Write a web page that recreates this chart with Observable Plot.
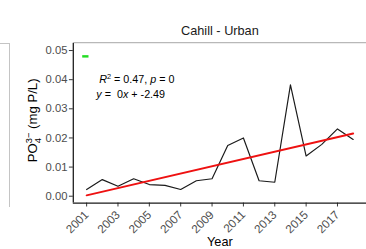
<!DOCTYPE html>
<html><head><meta charset="utf-8">
<script src="https://cdn.jsdelivr.net/npm/d3@7"></script>
<script src="https://cdn.jsdelivr.net/npm/@observablehq/plot@0.6"></script>
<style>
body{margin:0;background:#fff;}
#wrap{position:relative;width:366px;height:249px;overflow:hidden;font-family:"Liberation Sans",Arial,sans-serif;background:#fff;}
#wrap svg{position:absolute;left:0;top:0;}
#neighbor{position:absolute;left:-10px;top:43px;width:18.5px;height:163px;border-top:1.5px solid #c4c4c4;border-right:1.5px solid #c4c4c4;}
</style></head><body><div id="wrap"><div id="neighbor"></div></div>
<script>
// ---- data ----
const years = [2001,2002,2003,2004,2005,2006,2007,2008,2009,2010,2011,2012,2013,2014,2015,2016,2017,2018];
const po4 = [0.0023,0.0057,0.0034,0.0060,0.0040,0.0037,0.0023,0.0053,0.0060,0.0174,0.0200,0.0053,0.0048,0.0382,0.0138,0.0178,0.0231,0.0195];
const fitYears = [2001, 2018];
const fitValues = [0.0003, 0.0215];
const xTicks = [2001,2003,2005,2007,2009,2011,2013,2015,2017];
const yTicks = [0,0.01,0.02,0.03,0.04,0.05];
const xDomain = [2000.15, 2018.85];
const yDomain = [-0.00235, 0.0524];
const panelTitle = "Cahill - Urban";
const xLabel = "Year";
const statLines = ["*R*^2^ = 0.47, *p* = 0", "*y* =  0*x* + -2.49"];
const statX = [2001.8, 2001.62];
const statY = [0.0399, 0.0348];
const greenX1 = [2000.75];
const greenX2 = [2001.15];
const greenY = [0.0480];

const series = years.map((y, i) => ({year: y, value: po4[i]}));
const fit = fitYears.map((y, i) => ({year: y, value: fitValues[i]}));
const stats = statLines.map((t, i) => ({t, x: statX[i], y: statY[i]}));
const green = greenY.map((y, i) => ({x1: greenX1[i], x2: greenX2[i], y}));

const plot = Plot.plot({
  width: 374, height: 249,
  marginLeft: 74.4, marginRight: 0, marginTop: 44, marginBottom: 42,
  style: {fontFamily: "'Liberation Sans', Arial, sans-serif", fontSize: "11.5px", color: "#333333", background: "transparent", overflow: "visible"},
  x: {domain: xDomain, ticks: xTicks, tickFormat: d => String(d), tickRotate: -45, tickSize: 4, tickPadding: 6, label: null},
  y: {domain: yDomain, ticks: yTicks, tickFormat: d => d.toFixed(2), tickSize: 4, tickPadding: 2, label: null},
  marks: [
    Plot.ruleY([yDomain[1]], {stroke: "#b8b8b8", strokeWidth: 1.3, dy: -1}),
    Plot.ruleX([xDomain[0]], {stroke: "#1a1a1a", strokeWidth: 1.3}),
    Plot.ruleY([yDomain[0]], {stroke: "#1a1a1a", strokeWidth: 1.3}),
    Plot.line(series, {x: "year", y: "value", stroke: "#1a1a1a", strokeWidth: 1.2}),
    Plot.line(fit, {x: "year", y: "value", stroke: "#ee1111", strokeWidth: 2}),
    Plot.ruleY(green, {y: "y", x1: "x1", x2: "x2", stroke: "#22dd22", strokeWidth: 2.5}),
    Plot.text(stats, {x: "x", y: "y", text: "t", textAnchor: "start", lineAnchor: "middle", fontSize: 11, fill: "#000"}),
    Plot.text([panelTitle], {frameAnchor: "top", dy: -13, lineAnchor: "middle", fontSize: 13, fill: "#1a1a1a"}),
    Plot.text([xLabel], {frameAnchor: "bottom", dy: 44, lineAnchor: "bottom", fontSize: 13, fill: "#000"})
  ]
});
document.getElementById("wrap").appendChild(plot);
const svg = d3.select(plot);

// tick label colour and size
svg.selectAll("g[aria-label^='x-axis'] text")
  .attr("fill", "#4d4d4d").attr("font-size", 12);
svg.selectAll("g[aria-label^='y-axis'] text")
  .attr("fill", "#4d4d4d").attr("font-size", 11.5);

// rich text for statistics lines
svg.selectAll("text").each(function() {
  const s = this.textContent;
  if (!statLines.includes(s)) return;
  const el = d3.select(this);
  el.text("").style("white-space", "pre");
  const re = /(\*[^*]+\*|\^[^^]+\^|[^*^]+)/g;
  let m, lastSup = false;
  while ((m = re.exec(s))) {
    const tok = m[1];
    if (tok.startsWith("*")) {
      const t = el.append("tspan").attr("font-style", "italic").text(tok.slice(1, -1));
      if (lastSup) { t.attr("dy", 4); lastSup = false; }
    } else if (tok.startsWith("^")) {
      el.append("tspan").attr("font-size", 7.5).attr("dy", -4).text(tok.slice(1, -1));
      lastSup = true;
    } else {
      const t = el.append("tspan").text(tok);
      if (lastSup) { t.attr("dy", 4); lastSup = false; }
    }
  }
});

// y-axis title: PO4^3- (mg P/L)
const yl = svg.append("text")
  .attr("transform", "translate(38,123) rotate(-90)")
  .attr("text-anchor", "middle")
  .attr("font-size", 13.5)
  .attr("fill", "#000")
  .attr("font-family", "'Liberation Sans', Arial, sans-serif");
yl.append("tspan").text("PO");
yl.append("tspan").attr("font-size", 9.5).attr("dy", 3.5).text("4");
yl.append("tspan").attr("font-size", 9.5).attr("dx", -5.3).attr("dy", -9).text("3−");
yl.append("tspan").attr("dy", 5.5).style("white-space", "pre").text(" (mg P/L)");
</script>
</body></html>
